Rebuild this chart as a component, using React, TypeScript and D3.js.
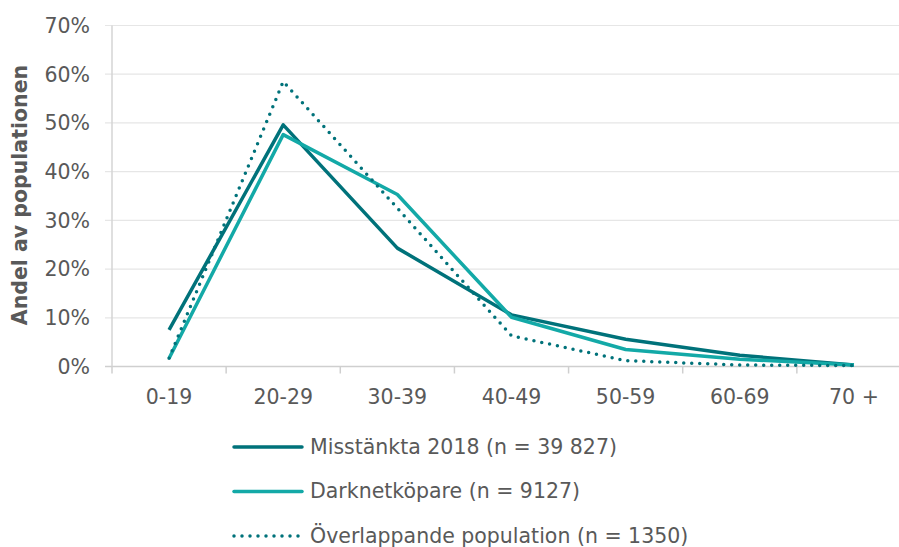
import React from "react";
import * as d3 from "d3";

const categories = ["0-19", "20-29", "30-39", "40-49", "50-59", "60-69", "70 +"];
const misstankta = [7.5, 49.6, 24.3, 10.6, 5.6, 2.3, 0.3];
const darknet = [1.7, 47.6, 35.3, 10.1, 3.5, 1.5, 0.3];
const overlap = [1.7, 58.5, 32.5, 6.3, 1.2, 0.3, 0.2];
const yTicks = [0, 10, 20, 30, 40, 50, 60, 70];

const series = [
  { name: "Misstänkta 2018 (n = 39 827)", values: misstankta, color: "#00727a", dash: "" },
  { name: "Darknetköpare (n = 9127)", values: darknet, color: "#13a9a7", dash: "" },
  { name: "Överlappande population (n = 1350)", values: overlap, color: "#00727a", dash: "0 8" },
];

export default function App() {
  const W = 899, H = 547;
  const left = 112, right = 911, top = 25.5, bottom = 366.5;
  const x = d3.scaleBand<string>().domain(categories).range([left, right]);
  const y = d3.scaleLinear().domain([0, 70]).range([bottom, top]);
  const line = d3
    .line<number>()
    .x((_, i) => (x(categories[i]) as number) + x.bandwidth() / 2)
    .y((d) => y(d));
  const font = "'DejaVu Sans', sans-serif";
  const textColor = "#595959";
  const tickEdges = [...categories.map((c) => x(c) as number), right];
  return (
    <svg width={W} height={H} style={{ position: "absolute", left: 0, top: 0, background: "#fff" }} fontFamily={font}>
      {yTicks.map((t) => (
        <g key={t}>
          <line x1={105} x2={right} y1={y(t)} y2={y(t)} stroke={t === 0 ? "#cfcfcf" : "#e6e6e6"} strokeWidth={t === 0 ? 1.5 : 1.2} />
          <text x={90} y={y(t)} dy="0.36em" textAnchor="end" fontSize={20.5} fill={textColor}>
            {t}%
          </text>
        </g>
      ))}
      <line x1={left} x2={left} y1={top} y2={bottom} stroke="#d4d4d4" strokeWidth={1.5} />
      {tickEdges.map((e, i) => (
        <line key={i} x1={e} x2={e} y1={bottom} y2={bottom + 7} stroke="#cfcfcf" strokeWidth={1.5} />
      ))}
      {categories.map((c) => (
        <text key={c} x={(x(c) as number) + x.bandwidth() / 2} y={397} dy="0.36em" textAnchor="middle" fontSize={20.5} fill={textColor}>
          {c}
        </text>
      ))}
      <text transform={`translate(20,195) rotate(-90)`} textAnchor="middle" dy="0.36em" fontSize={20.5} fontWeight="bold" fill={textColor}>
        Andel av populationen
      </text>
      {series.map((s) => (
        <path
          key={s.name}
          d={line(s.values) as string}
          fill="none"
          stroke={s.color}
          strokeWidth={3.5}
          strokeDasharray={s.dash || undefined}
          strokeLinecap={s.dash ? "round" : "butt"}
          strokeLinejoin="round"
        />
      ))}
      {series.map((s, i) => {
        const ly = 447 + i * 44.5;
        return (
          <g key={s.name}>
            <line x1={234} x2={302} y1={ly} y2={ly} stroke={s.color} strokeWidth={3.5} strokeDasharray={s.dash || undefined} strokeLinecap="round" />
            <text x={310} y={ly} dy="0.34em" fontSize={20.5} fill={textColor}>
              {s.name}
            </text>
          </g>
        );
      })}
    </svg>
  );
}
